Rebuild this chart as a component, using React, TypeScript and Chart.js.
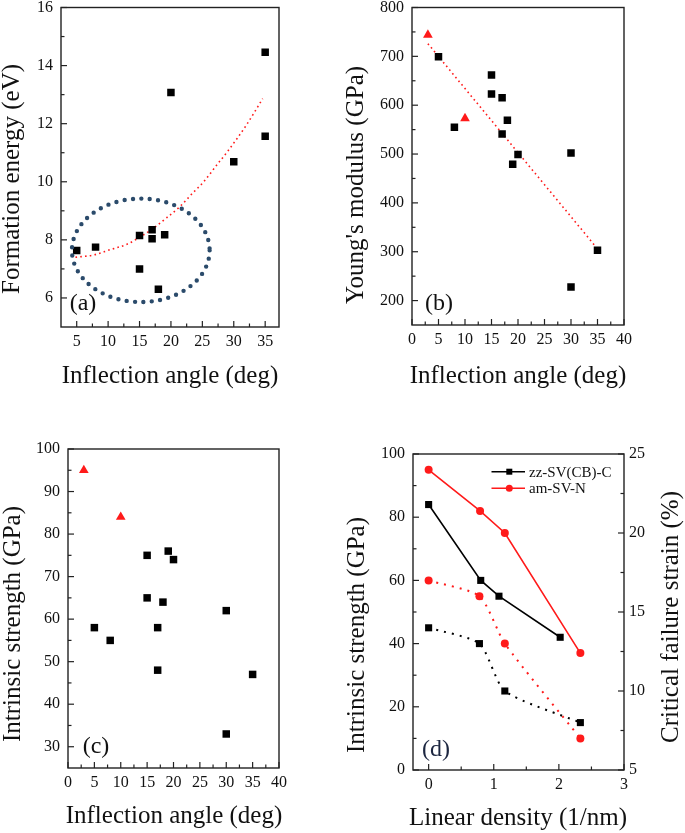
import React, { useEffect, useRef } from 'react';
import { Chart, registerables } from 'chart.js';

Chart.register(...registerables);

const FONT = '"Liberation Serif", "Times New Roman", Times, serif';
const RED = '#ff1a1a';

// ---------- Panel (a) ----------
const aAngle = [5, 8, 15, 15, 17, 17, 18, 19, 20, 30, 35, 35];
const aEnergy = [7.63, 7.75, 8.15, 7.0, 8.35, 8.04, 6.3, 8.18, 13.07, 10.69, 14.46, 11.57];
const aFitAngle = [4.8, 7.7, 10.3, 13, 15.1, 17.2, 19.3, 21.4, 23.5, 25.1, 27.2, 29.1, 32, 34.6];
const aFitEnergy = [7.4, 7.48, 7.66, 7.85, 8.1, 8.4, 8.76, 9.14, 9.62, 9.97, 10.55, 11.07, 11.95, 12.86];
const aXTicks = [5, 10, 15, 20, 25, 30, 35];
const aXMinor = [7.5, 12.5, 17.5, 22.5, 27.5, 32.5];
const aYTicks = [6, 8, 10, 12, 14, 16];
const aYMinor = [7, 9, 11, 13, 15];
const aEllipse = { cx: 15.2, cy: 7.64, rx: 10.96, ry: 1.78 };

// ---------- Panel (b) ----------
const bAngle = [5, 8, 15, 15, 17, 17, 18, 19, 20, 30, 30, 35];
const bModulus = [699, 555, 662, 623, 615, 541, 569, 479, 499, 502, 228, 303];
const bTriAngle = [3, 10];
const bTriModulus = [744, 573];
const bFitAngle = [3, 34.7];
const bFitModulus = [726, 310];
const bXTicks = [0, 5, 10, 15, 20, 25, 30, 35, 40];
const bXMinor = [2.5, 7.5, 12.5, 17.5, 22.5, 27.5, 32.5, 37.5];
const bYTicks = [200, 300, 400, 500, 600, 700, 800];
const bYMinor = [250, 350, 450, 550, 650, 750];

// ---------- Panel (c) ----------
const cAngle = [5, 8, 15, 15, 17, 17, 18, 19, 20, 30, 30, 35];
const cStrength = [58, 55, 75, 65, 58, 48, 64, 76, 74, 62, 33, 47];
const cTriAngle = [3, 10];
const cTriStrength = [95, 84];
const cXTicks = [0, 5, 10, 15, 20, 25, 30, 35, 40];
const cXMinor = [2.5, 7.5, 12.5, 17.5, 22.5, 27.5, 32.5, 37.5];
const cYTicks = [30, 40, 50, 60, 70, 80, 90, 100];
const cYMinor = [35, 45, 55, 65, 75, 85, 95];

// ---------- Panel (d) ----------
const dZzDensity = [0, 0.8, 1.08, 2.02];
const dZzStrength = [84, 60, 55, 42];
const dAmDensity = [0, 0.79, 1.17, 2.33];
const dAmStrength = [95, 82, 75, 37];
const dStrainDensity = [0, 0.78, 1.17, 2.33];
const dZzStrain = [14, 13, 10, 8];
const dAmStrain = [17, 16, 13, 7];
const dXTicks = [0, 1, 2, 3];
const dXMinor = [0.5, 1.5, 2.5];
const dYTicks = [0, 20, 40, 60, 80, 100];
const dYMinor = [10, 30, 50, 70, 90];
const dY2Ticks = [5, 10, 15, 20, 25];
const dY2Minor = [7.5, 12.5, 17.5, 22.5];
const dLegend = ['zz-SV(CB)-C', 'am-SV-N'];

const pts = (xs: number[], ys: number[]) => xs.map((x, i) => ({ x, y: ys[i] }));

type Area = { l: number; t: number; r: number; b: number };
type TextItem = { text: string; x: number; y: number; rot?: number; size: number; color?: string };
type TickSpec = { id: string; side: 'bottom' | 'left' | 'right'; major: number[]; minor: number[] };

function scale(o: {
  min: number; max: number; ticks: number[]; position: string; size: number; horizontal: boolean; pad: number;
}) {
  return {
    type: 'linear',
    position: o.position,
    min: o.min,
    max: o.max,
    grid: { display: false, drawTicks: false },
    border: { display: false },
    afterBuildTicks: (s: any) => {
      s.ticks = o.ticks.map((v) => ({ value: v }));
    },
    ticks: {
      font: { family: FONT, size: 16 },
      color: '#111',
      padding: o.pad,
      autoSkip: false,
      maxRotation: 0,
      minRotation: 0,
    },
    afterFit: (s: any) => {
      if (o.horizontal) s.height = o.size;
      else s.width = o.size;
      s.paddingLeft = 0;
      s.paddingRight = 0;
      s.paddingTop = 0;
      s.paddingBottom = 0;
    },
  };
}

function decor(opts: {
  ticks: TickSpec[];
  texts: TextItem[];
  ellipse?: { cx: number; cy: number; rx: number; ry: number };
  legend?: boolean;
}) {
  return {
    id: 'decor',
    afterDatasetsDraw(chart: any) {
      const { ctx } = chart;
      if (opts.ellipse) {
        const e = opts.ellipse;
        const xs = chart.scales.x;
        const ys = chart.scales.y;
        const px = xs.getPixelForValue(e.cx);
        const py = ys.getPixelForValue(e.cy);
        const rx = Math.abs(xs.getPixelForValue(e.cx + e.rx) - px);
        const ry = Math.abs(ys.getPixelForValue(e.cy + e.ry) - py);
        ctx.save();
        ctx.strokeStyle = '#2b4b6b';
        ctx.lineWidth = 4.4;
        ctx.lineCap = 'round';
        ctx.setLineDash([0, 8.4]);
        ctx.beginPath();
        ctx.ellipse(px, py, rx, ry, 0, 0, Math.PI * 2);
        ctx.stroke();
        ctx.restore();
      }
    },
    afterDraw(chart: any) {
      const { ctx, chartArea: a } = chart;
      ctx.save();
      ctx.strokeStyle = '#222';
      ctx.lineWidth = 1.4;
      ctx.strokeRect(a.left, a.top, a.right - a.left, a.bottom - a.top);
      ctx.lineWidth = 1.2;
      for (const t of opts.ticks) {
        const s = chart.scales[t.id];
        const draw = (v: number, len: number) => {
          const p = s.getPixelForValue(v);
          ctx.beginPath();
          if (t.side === 'bottom') {
            ctx.moveTo(p, a.bottom);
            ctx.lineTo(p, a.bottom - len);
          } else if (t.side === 'left') {
            ctx.moveTo(a.left, p);
            ctx.lineTo(a.left + len, p);
          } else {
            ctx.moveTo(a.right, p);
            ctx.lineTo(a.right - len, p);
          }
          ctx.stroke();
        };
        t.major.forEach((v) => draw(v, 6));
        t.minor.forEach((v) => draw(v, 3.5));
      }
      for (const tx of opts.texts) {
        ctx.save();
        ctx.translate(tx.x, tx.y);
        if (tx.rot) ctx.rotate(tx.rot);
        ctx.font = `${tx.size}px ${FONT}`;
        ctx.fillStyle = tx.color || '#111';
        ctx.textAlign = 'center';
        ctx.textBaseline = 'alphabetic';
        ctx.fillText(tx.text, 0, 0);
        ctx.restore();
      }
      if (opts.legend) {
        const rows = [
          { label: dLegend[0], color: '#000', marker: 'rect', y: 56.7 },
          { label: dLegend[1], color: RED, marker: 'circle', y: 73.3 },
        ];
        for (const r of rows) {
          ctx.strokeStyle = r.color;
          ctx.fillStyle = r.color;
          ctx.lineWidth = 1.6;
          ctx.beginPath();
          ctx.moveTo(151.5, r.y);
          ctx.lineTo(185, r.y);
          ctx.stroke();
          if (r.marker === 'rect') ctx.fillRect(169.3 - 3, r.y - 3, 6, 6);
          else {
            ctx.beginPath();
            ctx.arc(169.3, r.y, 3.5, 0, Math.PI * 2);
            ctx.fill();
          }
          ctx.fillStyle = '#111';
          ctx.font = `15px ${FONT}`;
          ctx.textAlign = 'left';
          ctx.textBaseline = 'middle';
          ctx.fillText(r.label, 189, r.y + 1);
        }
      }
      ctx.restore();
    },
  };
}

const squares = (data: any[]) => ({
  data,
  pointStyle: 'rect',
  pointRadius: 5.3,
  backgroundColor: '#000',
  borderColor: '#000',
  borderWidth: 0,
  showLine: false,
});
const triangles = (data: any[]) => ({
  data,
  pointStyle: 'triangle',
  pointRadius: 5.6,
  backgroundColor: RED,
  borderColor: RED,
  borderWidth: 0,
  showLine: false,
});
const fitLine = (data: any[]) => ({
  data,
  showLine: true,
  pointRadius: 0,
  borderColor: RED,
  borderWidth: 1.6,
  borderDash: [1.6, 3.2],
  cubicInterpolationMode: 'monotone',
  fill: false,
});

function baseOptions(W: number, area: Area, scales: any, extra?: any) {
  return {
    animation: false,
    responsive: false,
    events: [],
    layout: { padding: { left: 0, top: area.t, right: extra?.noRightPad ? 0 : W - area.r, bottom: 0 } },
    plugins: { legend: { display: false }, tooltip: { enabled: false } },
    scales,
  };
}

type Panel = { left: number; top: number; width: number; height: number; make: () => any };

const panels: Panel[] = [
  {
    left: 0, top: 0, width: 340, height: 415,
    make: () => {
      const area = { l: 61, t: 7.5, r: 279, b: 327 };
      return {
        type: 'scatter',
        data: {
          datasets: [
            squares(pts(aAngle, aEnergy)),
            fitLine(pts(aFitAngle, aFitEnergy)),
          ],
        },
        options: baseOptions(340, area, {
          x: scale({ min: 2.5, max: 37.2, ticks: aXTicks, position: 'bottom', size: 415 - area.b, horizontal: true, pad: 5 }),
          y: scale({ min: 5, max: 16, ticks: aYTicks, position: 'left', size: area.l, horizontal: false, pad: 8 }),
        }),
        plugins: [
          decor({
            ellipse: aEllipse,
            ticks: [
              { id: 'x', side: 'bottom', major: aXTicks, minor: aXMinor },
              { id: 'y', side: 'left', major: aYTicks, minor: aYMinor },
            ],
            texts: [
              { text: 'Formation energy (eV)', x: 19, y: 179, rot: -Math.PI / 2, size: 25 },
              { text: 'Inflection angle (deg)', x: 170, y: 383, size: 25 },
              { text: '(a)', x: 83, y: 310, size: 24 },
            ],
          }),
        ],
      };
    },
  },
  {
    left: 340, top: 0, width: 345, height: 415,
    make: () => {
      const area = { l: 72, t: 7.5, r: 284, b: 325 };
      return {
        type: 'scatter',
        data: {
          datasets: [
            triangles(pts(bTriAngle, bTriModulus)),
            squares(pts(bAngle, bModulus)),
            fitLine(pts(bFitAngle, bFitModulus)),
          ],
        },
        options: baseOptions(345, area, {
          x: scale({ min: 0, max: 40, ticks: bXTicks, position: 'bottom', size: 415 - area.b, horizontal: true, pad: 5 }),
          y: scale({ min: 150, max: 800, ticks: bYTicks, position: 'left', size: area.l, horizontal: false, pad: 8 }),
        }),
        plugins: [
          decor({
            ticks: [
              { id: 'x', side: 'bottom', major: bXTicks, minor: bXMinor },
              { id: 'y', side: 'left', major: bYTicks, minor: bYMinor },
            ],
            texts: [
              { text: "Young's modulus (GPa)", x: 23, y: 185, rot: -Math.PI / 2, size: 25 },
              { text: 'Inflection angle (deg)', x: 178, y: 383, size: 25 },
              { text: '(b)', x: 99, y: 310, size: 24 },
            ],
          }),
        ],
      };
    },
  },
  {
    left: 0, top: 415, width: 340, height: 418,
    make: () => {
      const area = { l: 68, t: 34, r: 279, b: 353 };
      return {
        type: 'scatter',
        data: {
          datasets: [
            triangles(pts(cTriAngle, cTriStrength)),
            squares(pts(cAngle, cStrength)),
          ],
        },
        options: baseOptions(340, area, {
          x: scale({ min: 0, max: 40, ticks: cXTicks, position: 'bottom', size: 418 - area.b, horizontal: true, pad: 5 }),
          y: scale({ min: 25, max: 100, ticks: cYTicks, position: 'left', size: area.l, horizontal: false, pad: 8 }),
        }),
        plugins: [
          decor({
            ticks: [
              { id: 'x', side: 'bottom', major: cXTicks, minor: cXMinor },
              { id: 'y', side: 'left', major: cYTicks, minor: cYMinor },
            ],
            texts: [
              { text: 'Intrinsic strength (GPa)', x: 19.5, y: 209, rot: -Math.PI / 2, size: 25 },
              { text: 'Inflection angle (deg)', x: 174, y: 408, size: 25 },
              { text: '(c)', x: 96, y: 338, size: 24 },
            ],
          }),
        ],
      };
    },
  },
  {
    left: 340, top: 415, width: 345, height: 418,
    make: () => {
      const area = { l: 73, t: 39, r: 284, b: 355 };
      const solid = (data: any[], color: string, style: string, radius: number) => ({
        data,
        yAxisID: 'y',
        showLine: true,
        borderColor: color,
        backgroundColor: color,
        borderWidth: 1.6,
        pointStyle: style,
        pointRadius: radius,
        pointBorderWidth: 0,
        tension: 0,
      });
      const dotted = (data: any[], color: string, style: string, radius: number) => ({
        data,
        yAxisID: 'y2',
        showLine: true,
        borderColor: color,
        backgroundColor: color,
        borderWidth: 2,
        borderDash: [2, 6],
        pointStyle: style,
        pointRadius: radius,
        pointBorderWidth: 0,
        tension: 0.22,
      });
      return {
        type: 'scatter',
        data: {
          datasets: [
            solid(pts(dZzDensity, dZzStrength), '#000', 'rect', 5),
            solid(pts(dAmDensity, dAmStrength), RED, 'circle', 4),
            dotted(pts(dStrainDensity, dZzStrain), '#000', 'rect', 5),
            dotted(pts(dStrainDensity, dAmStrain), RED, 'circle', 4),
          ],
        },
        options: baseOptions(345, area, {
          x: scale({ min: -0.24, max: 3, ticks: dXTicks, position: 'bottom', size: 418 - area.b, horizontal: true, pad: 5 }),
          y: scale({ min: 0, max: 100, ticks: dYTicks, position: 'left', size: area.l, horizontal: false, pad: 8 }),
          y2: scale({ min: 5, max: 25, ticks: dY2Ticks, position: 'right', size: 345 - area.r, horizontal: false, pad: 5 }),
        }, { noRightPad: true }),
        plugins: [
          decor({
            legend: true,
            ticks: [
              { id: 'x', side: 'bottom', major: dXTicks, minor: dXMinor },
              { id: 'y', side: 'left', major: dYTicks, minor: dYMinor },
              { id: 'y2', side: 'right', major: dY2Ticks, minor: dY2Minor },
            ],
            texts: [
              { text: 'Intrinsic strength (GPa)', x: 24, y: 220, rot: -Math.PI / 2, size: 25 },
              { text: 'Critical failure strain (%)', x: 338, y: 202, rot: -Math.PI / 2, size: 25 },
              { text: 'Linear density (1/nm)', x: 178, y: 410, size: 25 },
              { text: '(d)', x: 96, y: 341, size: 24, color: '#1c2640' },
            ],
          }),
        ],
      };
    },
  },
];

function ChartPanel({ panel }: { panel: Panel }) {
  const ref = useRef<HTMLCanvasElement>(null);
  useEffect(() => {
    const chart = new Chart(ref.current as HTMLCanvasElement, panel.make());
    return () => chart.destroy();
  }, [panel]);
  return (
    <canvas
      ref={ref}
      width={panel.width}
      height={panel.height}
      style={{ position: 'absolute', left: panel.left, top: panel.top, width: panel.width, height: panel.height }}
    />
  );
}

export default function App() {
  return (
    <div style={{ position: 'absolute', left: 0, top: 0, width: 685, height: 833, background: '#fff', overflow: 'hidden' }}>
      {panels.map((p, i) => (
        <ChartPanel key={i} panel={p} />
      ))}
    </div>
  );
}
